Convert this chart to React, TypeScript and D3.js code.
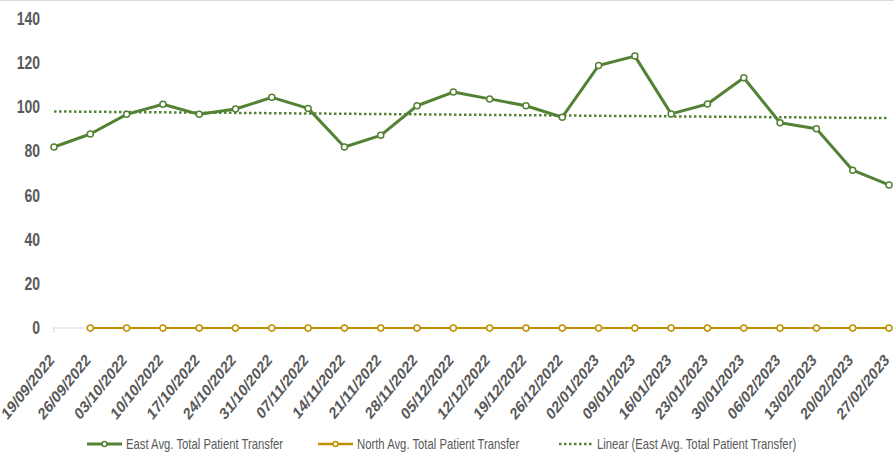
import React from "react";
import * as d3 from "d3";

const dates = [
  "19/09/2022", "26/09/2022", "03/10/2022", "10/10/2022", "17/10/2022", "24/10/2022",
  "31/10/2022", "07/11/2022", "14/11/2022", "21/11/2022", "28/11/2022", "05/12/2022",
  "12/12/2022", "19/12/2022", "26/12/2022", "02/01/2023", "09/01/2023", "16/01/2023",
  "23/01/2023", "30/01/2023", "06/02/2023", "13/02/2023", "20/02/2023", "27/02/2023",
];
const eastValues = [
  82, 87.9, 96.8, 101.4, 96.8, 99.2, 104.5, 99.5, 82, 87.3, 100.7, 106.9,
  103.8, 100.7, 95.5, 118.9, 123.2, 97, 101.5, 113.4, 93, 90.3, 71.5, 64.8,
];
const northValues: (number | null)[] = [
  null, 0, 0, 0, 0, 0, 0, 0, 0, 0, 0, 0, 0, 0, 0, 0, 0, 0, 0, 0, 0, 0, 0, 0,
];
const yTicks = [0, 20, 40, 60, 80, 100, 120, 140];
const seriesNames = [
  "East Avg. Total Patient Transfer",
  "North Avg. Total Patient Transfer",
  "Linear (East Avg. Total Patient Transfer)",
];

const GREEN = "#548235";
const GOLD = "#BF9000";
const TEXT = "#595959";
const FONT = "'Liberation Sans', Arial, sans-serif";
const VS = 1.25; // vertical stretch of text

export default function App() {
  const W = 894, H = 476;
  const x = d3.scalePoint<string>().domain(dates).range([54, 889]);
  const y = d3.scaleLinear().domain([0, 140]).range([328, 19]);

  const eastData = dates.map((d, i) => ({ d, v: eastValues[i] }));
  const northData = dates.map((d, i) => ({ d, v: northValues[i] }));

  const line = d3
    .line<{ d: string; v: number | null }>()
    .defined((p) => p.v !== null)
    .x((p) => x(p.d)!)
    .y((p) => y(p.v as number));

  // linear regression trendline
  const n = eastValues.length;
  const xs = d3.range(n);
  const mx = d3.mean(xs)!;
  const my = d3.mean(eastValues)!;
  const slope =
    d3.sum(xs, (i) => (i - mx) * (eastValues[i] - my)) /
    d3.sum(xs, (i) => (i - mx) * (i - mx));
  const icpt = my - slope * mx;
  const trendStart = icpt;
  const trendEnd = icpt + slope * (n - 1);

  const legendY = 444;
  const legend = [
    { x0: 87, color: GREEN, label: seriesNames[0], kind: "line" },
    { x0: 318, color: GOLD, label: seriesNames[1], kind: "line" },
    { x0: 558, color: GREEN, label: seriesNames[2], kind: "dot" },
  ];

  return (
    <svg
      width={W}
      height={H}
      style={{ position: "absolute", left: 0, top: 0, background: "#fff" }}
      fontFamily={FONT}
    >
      <rect x={0} y={0} width={W} height={H} fill="#fff" />
      <line x1={0} x2={W} y1={0.5} y2={0.5} stroke="#d9d9d9" />

      {/* y tick labels */}
      {yTicks.map((t) => (
        <text
          key={t}
          transform={`translate(40,${y(t) + 6}) scale(1,${VS})`}
          textAnchor="end"
          fontSize={14}
          fontWeight="bold"
          fill={TEXT}
        >
          {t}
        </text>
      ))}

      {/* x axis */}
      <line x1={53} x2={890} y1={y(0)} y2={y(0)} stroke="#d9d9d9" strokeWidth={1} />
      {dates.map((d) => (
        <line key={d} x1={x(d)} x2={x(d)} y1={y(0)} y2={y(0) + 5} stroke="#d9d9d9" />
      ))}
      {dates.map((d) => (
        <text
          key={"l" + d}
          transform={`translate(${x(d)! + 1},${y(0) + 33}) scale(1,${VS}) rotate(-45)`}
          textAnchor="end"
          fontSize={13.5}
          fontWeight="bold"
          fill={TEXT}
        >
          {d}
        </text>
      ))}

      {/* trendline */}
      <line
        x1={x(dates[0])}
        x2={x(dates[n - 1])}
        y1={y(trendStart)}
        y2={y(trendEnd)}
        stroke={GREEN}
        strokeWidth={2.5}
        strokeDasharray="2.5,2.5"
      />

      {/* North */}
      <path d={line(northData)!} fill="none" stroke={GOLD} strokeWidth={2} />
      {northData
        .filter((p) => p.v !== null)
        .map((p) => (
          <circle key={"n" + p.d} cx={x(p.d)} cy={y(p.v as number)} r={3} fill="#fff" stroke={GOLD} strokeWidth={1.5} />
        ))}

      {/* East */}
      <path d={line(eastData)!} fill="none" stroke={GREEN} strokeWidth={3} strokeLinejoin="round" />
      {eastData.map((p) => (
        <circle key={"e" + p.d} cx={x(p.d)} cy={y(p.v)} r={3} fill="#fff" stroke={GREEN} strokeWidth={1.5} />
      ))}

      {/* legend */}
      {legend.map((l) => (
        <g key={l.label}>
          {l.kind === "line" ? (
            <>
              <line x1={l.x0} x2={l.x0 + 35} y1={legendY} y2={legendY} stroke={l.color} strokeWidth={l.color === GREEN ? 3 : 2.5} />
              <circle cx={l.x0 + 17.5} cy={legendY} r={2.5} fill="#fff" stroke={l.color} strokeWidth={1.5} />
            </>
          ) : (
            <line x1={l.x0 + 1} x2={l.x0 + 34} y1={legendY} y2={legendY} stroke={l.color} strokeWidth={2.5} strokeDasharray="2.5,2.5" />
          )}
          <text
            transform={`translate(${l.x0 + 39},${legendY + 5}) scale(1,${VS})`}
            fontSize={11.3}
            fill={TEXT}
          >
            {l.label}
          </text>
        </g>
      ))}
    </svg>
  );
}
